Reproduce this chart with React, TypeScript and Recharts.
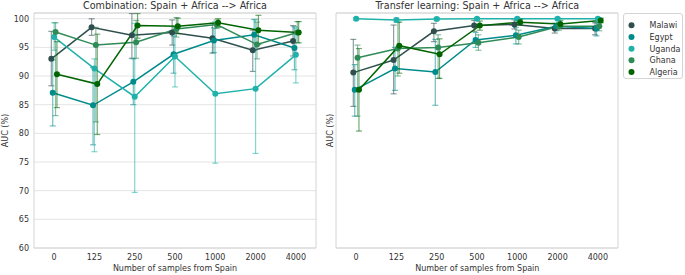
import React from 'react';
import { LineChart, Line, XAxis, YAxis, CartesianGrid, ErrorBar, ReferenceArea } from 'recharts';

const samples = ['0', '125', '250', '500', '1000', '2000', '4000'];
const countries = ['Malawi', 'Egypt', 'Uganda', 'Ghana', 'Algeria'];
const yTicks = [60, 65, 70, 75, 80, 85, 90, 95, 100];
const panelTitles = ['Combination: Spain + Africa --> Africa', 'Transfer learning: Spain + Africa --> Africa'];

// Combination panel: mean AUC and CI bounds, one row per country
const combMean = [
  [93.0, 98.5, 97.1, 97.6, 96.6, 94.5, 96.1],
  [87.1, 84.9, 89.0, 93.8, 96.2, 97.2, 94.9],
  [96.8, 91.3, 86.4, 93.4, 86.9, 87.8, 93.7],
  [97.7, 95.4, 95.9, 98.2, 99.0, 95.5, 97.6],
  [90.3, 88.6, 98.8, 98.7, 99.3, 98.0, 97.6],
];
const combLow = [
  [88.3, 97.1, 93.1, 95.4, 94.0, 90.8, 93.5],
  [81.3, 78.0, 85.0, 90.5, 94.1, 94.5, 91.1],
  [94.5, 76.8, 69.7, 88.1, 74.8, 76.5, 88.8],
  [83.1, 82.0, 93.1, 96.8, 98.3, 93.0, 95.8],
  [84.5, 79.8, 96.6, 97.4, 98.5, 95.5, 95.8],
];
const combHigh = [
  [97.8, 100.0, 100.9, 99.8, 99.2, 98.0, 98.8],
  [92.8, 91.5, 93.0, 97.0, 98.4, 99.9, 98.6],
  [99.3, 93.0, 99.2, 98.5, 99.5, 99.8, 98.4],
  [99.3, 98.5, 99.7, 100.2, 99.8, 99.4, 99.5],
  [96.0, 97.3, 100.9, 100.1, 100.0, 100.6, 99.5],
];

// Transfer learning panel
const transMean = [
  [90.6, 92.8, 97.8, 98.8, 99.0, 98.3, 98.3],
  [87.6, 91.3, 90.7, 96.3, 97.1, 98.7, 98.3],
  [100.0, 99.8, 99.95, 100.0, 100.0, 100.0, 100.0],
  [93.2, 94.8, 95.0, 95.8, 96.8, 98.7, 98.7],
  [87.6, 95.3, 93.8, 98.8, 99.4, 99.1, 99.7],
];
const transLow = [
  [84.7, 86.9, 96.0, 97.8, 98.2, 97.5, 97.2],
  [83.0, 87.5, 84.9, 95.0, 95.6, 97.9, 97.0],
  [99.7, 99.4, 99.7, 99.8, 99.8, 99.8, 99.8],
  [83.0, 90.0, 89.6, 94.5, 95.6, 98.0, 97.9],
  [80.4, 90.5, 89.6, 98.0, 98.9, 98.5, 99.3],
];
const transHigh = [
  [96.4, 98.9, 99.2, 99.7, 99.8, 99.2, 99.3],
  [92.0, 95.0, 96.4, 97.6, 98.5, 99.2, 99.3],
  [100.2, 100.1, 100.2, 100.2, 100.2, 100.2, 100.2],
  [95.4, 99.4, 97.2, 97.2, 98.0, 99.3, 99.3],
  [94.8, 99.4, 96.5, 99.6, 99.9, 99.7, 100.1],
];

const colors = ['#2f4f4f', '#008b8b', '#20b2aa', '#2e8b57', '#006400'];
const DODGE = 0.035;
const FONT = 'DejaVu Sans, sans-serif';
const TEXT = '#333333';

function buildSeries(mean: number[][], low: number[][], high: number[][], k: number) {
  return mean[k].map((v, i) => ({
    x: i + (k - 2) * DODGE,
    y: v,
    err: [v - low[k][i], high[k][i] - v],
  }));
}

function Panel({ mean, low, high, left, showTicks }: any) {
  return (
    <div style={{ position: 'absolute', left, top: 0 }}>
      <LineChart width={330} height={275} margin={{ top: 13, right: 14, bottom: 7, left: 0 }}>
        <CartesianGrid vertical={false} stroke="#e4e4e4" strokeWidth={1} />
        <ReferenceArea x1={-0.5} x2={6.5} y1={60} y2={101} fill="none" fillOpacity={0} stroke="#d4d4d4" strokeWidth={1} ifOverflow="visible" />
        <XAxis
          type="number"
          dataKey="x"
          domain={[-0.5, 6.5]}
          ticks={[0, 1, 2, 3, 4, 5, 6]}
          tickFormatter={(v: number) => samples[Math.round(v)]}
          allowDataOverflow
          interval={0}
          axisLine={false}
          tickLine={false}
          tickSize={0}
          tickMargin={6}
          height={20}
          tick={{ fontSize: 8, fill: TEXT, fontFamily: FONT }}
        />
        <YAxis
          type="number"
          domain={[60, 101]}
          ticks={yTicks}
          allowDataOverflow
          interval={0}
          width={34}
          axisLine={false}
          tickLine={false}
          tickSize={0}
          tickMargin={5}
          tick={showTicks ? { fontSize: 8, fill: TEXT, fontFamily: FONT } : false}
        />
        {countries.map((c, k) => (
          <Line
            key={c}
            name={c}
            data={buildSeries(mean, low, high, k)}
            dataKey="y"
            stroke={colors[k]}
            strokeWidth={1.5}
            dot={{ r: 3, fill: colors[k], stroke: colors[k], strokeWidth: 0 }}
            activeDot={false}
            isAnimationActive={false}
          >
            <ErrorBar dataKey="err" direction="y" width={3} stroke={colors[k]} strokeWidth={1.2} strokeOpacity={0.55} isAnimationActive={false} />
          </Line>
        ))}
      </LineChart>
    </div>
  );
}

export default function App() {
  const rowY = [11.3, 23, 34.7, 46.3, 58];
  return (
    <div style={{ position: 'relative', width: 685, height: 275, background: '#fff', fontFamily: FONT }}>
      <style>{`body{margin:0}`}</style>
      <Panel mean={combMean} low={combLow} high={combHigh} left={0} showTicks={true} />
      <Panel mean={transMean} low={transLow} high={transHigh} left={302} showTicks={false} />
      <svg width={685} height={275} style={{ position: 'absolute', left: 0, top: 0, pointerEvents: 'none' }}>
        <text x={175} y={9} textAnchor="middle" fontSize={9.6} fill={TEXT} fontFamily={FONT}>{panelTitles[0]}</text>
        <text x={477.3} y={9} textAnchor="middle" fontSize={9.6} fill={TEXT} fontFamily={FONT}>{panelTitles[1]}</text>
        <text x={175} y={270.5} textAnchor="middle" fontSize={8} fill={TEXT} fontFamily={FONT}>Number of samples from Spain</text>
        <text x={477.3} y={270.5} textAnchor="middle" fontSize={8} fill={TEXT} fontFamily={FONT}>Number of samples from Spain</text>
        <text x={7.7} y={130.5} transform="rotate(-90 7.7 130.5)" textAnchor="middle" fontSize={8} fill={TEXT} fontFamily={FONT}>AUC (%)</text>
        <text x={332.5} y={130.5} transform="rotate(-90 332.5 130.5)" textAnchor="middle" fontSize={8} fill={TEXT} fontFamily={FONT}>AUC (%)</text>
      </svg>
      <div style={{ position: 'absolute', left: 623, top: 13, width: 60, height: 66, boxSizing: 'border-box', border: '1px solid #d4d4d4', borderRadius: 3, background: '#fff' }}>
        <svg width={58} height={64}>
          {countries.map((c, k) => (
            <g key={c}>
              <circle cx={7.5} cy={rowY[k]} r={3} fill={colors[k]} />
              <text x={25.5} y={rowY[k] + 3} fontSize={8} fill={TEXT} fontFamily={FONT}>{c}</text>
            </g>
          ))}
        </svg>
      </div>
    </div>
  );
}
